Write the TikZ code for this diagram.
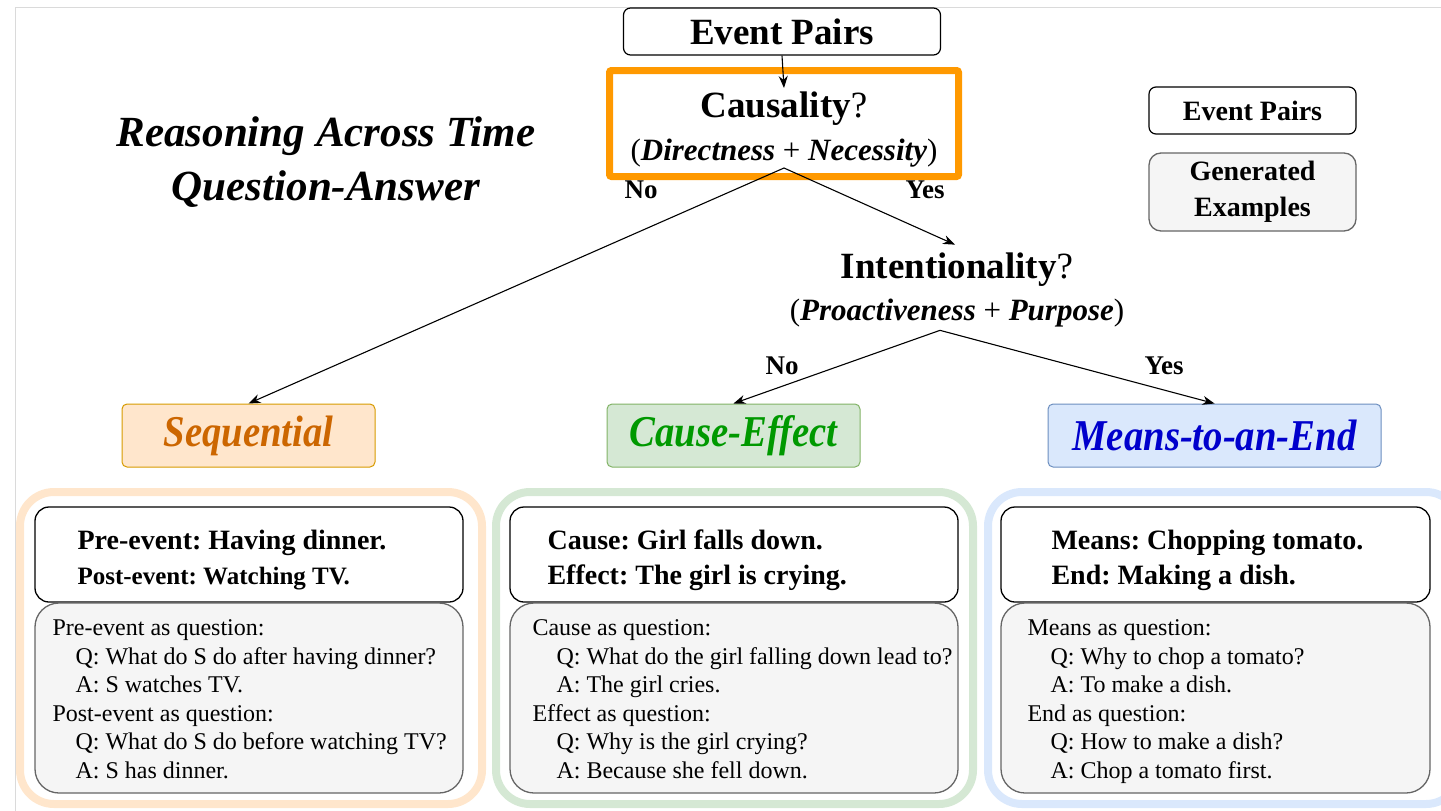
\documentclass[tikz,border=0pt]{standalone}
\usepackage{fontspec}
\setmainfont{Liberation Serif}
\newfontfamily\condfont[FakeStretch=0.88]{Liberation Serif}
\usetikzlibrary{arrows.meta, positioning}

\definecolor{seqfill}{HTML}{FFE6CC}
\definecolor{seqdraw}{HTML}{D79B00}
\definecolor{seqtext}{HTML}{CC6600}
\definecolor{cefill}{HTML}{D5E8D4}
\definecolor{cedraw}{HTML}{82B366}
\definecolor{cetext}{HTML}{009900}
\definecolor{mefill}{HTML}{DAE8FC}
\definecolor{medraw}{HTML}{6C8EBF}
\definecolor{metext}{HTML}{0000CC}
\definecolor{genfill}{HTML}{F5F5F5}
\definecolor{gendraw}{HTML}{666666}
\definecolor{causeorange}{HTML}{FF9900}
\definecolor{framegray}{HTML}{DADADA}

\newcommand{\pxfont}[2]{\fontsize{#1}{#2}\selectfont}
\frenchspacing

\begin{document}
\frenchspacing
\begin{tikzpicture}[x=1pt, y=-1pt,
  arr/.style={-{Stealth[length=12pt,width=9pt]}, line width=1.1pt},
  pairbox/.style={draw, rounded corners=14pt, fill=white, line width=1.3pt},
  genbox/.style={draw=gendraw, fill=genfill, rounded corners=24pt, line width=1.3pt},
  pairtext/.style={anchor=west, align=left, inner sep=0pt, yshift=-6pt, font=\pxfont{28}{35}\bfseries},
  gentext/.style={anchor=north west, align=left, inner sep=0pt, font=\pxfont{24}{28.6}},
  catbox/.style={rounded corners=5pt, minimum height=63pt, line width=1pt, font=\condfont\pxfont{44}{48}\bfseries\itshape},
  groupbox/.style={rounded corners=34pt, line width=8pt},
  lbl/.style={font=\pxfont{27}{32}\bfseries},
]
  \useasboundingbox (0,0) rectangle (1441,811);
  \draw[framegray, line width=1pt] (15,811) -- (15,7) -- (1441,7);

  % Title
  \node[align=center, font=\pxfont{43}{54}\bfseries\itshape] (title) at (326,162)
    {Reasoning Across Time\\Question-Answer};

  % Legend
  \node[draw, rounded corners=7pt, line width=1.2pt, minimum width=207pt, minimum height=47pt,
    font=\pxfont{28}{36}\bfseries] (legpairs) at (1252.5,110.5) {Event Pairs};
  \node[genbox, rounded corners=12pt, minimum width=207pt, minimum height=78pt, align=center,
    font=\pxfont{28}{36}\bfseries] (leggen) at (1252.5,192) {Generated\\Examples};

  % Decision tree
  \node[draw, rounded corners=7pt, line width=1.2pt, minimum width=317pt, minimum height=47pt,
    font=\pxfont{37}{40}\bfseries] (pairs) at (782,31.5) {Event Pairs};
  \node[draw=causeorange, line width=7pt, rounded corners=2pt, minimum width=349pt,
    minimum height=106pt] (causalbox) at (784,123.5) {};
  \node[align=center, inner sep=0pt, font=\pxfont{37}{43}] (causal) at (784,130)
    {\textbf{Causality}?\\
     \pxfont{31}{43}(\textbf{\textit{Directness}} + \textbf{\textit{Necessity}})};
  \node[align=center, inner sep=0pt, font=\pxfont{37}{42}] (intent) at (957,290)
    {\textbf{Intentionality}?\\
     \pxfont{31}{42}(\textbf{\textit{Proactiveness}} + \textbf{\textit{Purpose}})};

  \node[catbox, draw=seqdraw, fill=seqfill, text=seqtext, minimum width=253pt] (seq) at (248.5,435.5) {Sequential};
  \node[catbox, draw=cedraw, fill=cefill, text=cetext, minimum width=253pt] (ce) at (733.5,435.5) {Cause-Effect};
  \node[catbox, draw=medraw, fill=mefill, text=metext, minimum width=333pt] (me) at (1214.5,435.5) {Means-to-an-End};

  \coordinate (top) at ([yshift=12pt]causalbox.south);
  \coordinate (mid) at ([xshift=-17pt,yshift=-3pt]intent.south);
  \draw[arr] (pairs.south) -- ([yshift=-21pt]causalbox.north);
  \draw[arr] (top) -- (seq.north);
  \draw[arr] (top) -- ([xshift=-2pt,yshift=8pt]intent.north);
  \draw[arr] (mid) -- (ce.north);
  \draw[arr] (mid) -- (me.north);

  \node[lbl] (no1) at (641,190) {No};
  \node[lbl] (yes1) at (925,190) {Yes};
  \node[lbl] (no2) at (782,366) {No};
  \node[lbl] (yes2) at (1164,366) {Yes};

  % Example groups
  \draw[groupbox, seqfill] (20,492) rectangle (482,804);
  \draw[groupbox, cefill] (496,492) rectangle (973,804);
  \draw[groupbox, mefill] (988,492) rectangle (1460,804);

  \node[pairbox, minimum width=428pt, minimum height=95pt] (seqpair) at (249,554.5) {};
  \node[genbox, minimum width=428pt, minimum height=190pt] (seqgen) at (249,698) {};
  \node[pairbox, minimum width=448pt, minimum height=95pt] (cepair) at (734,554.5) {};
  \node[genbox, minimum width=448pt, minimum height=190pt] (cegen) at (734,698) {};
  \node[pairbox, minimum width=429pt, minimum height=95pt] (mepair) at (1215.5,554.5) {};
  \node[genbox, minimum width=429pt, minimum height=190pt] (megen) at (1215.5,698) {};

  \node[pairtext] at ([xshift=43pt]seqpair.west)
    {Pre-event: Having dinner.\\\pxfont{25}{35}Post-event: Watching TV.};
  \node[pairtext] at ([xshift=38pt]cepair.west)
    {Cause: Girl falls down.\\Effect: The girl is crying.};
  \node[pairtext] at ([xshift=51pt]mepair.west)
    {Means: Chopping tomato.\\End: Making a dish.};

  \node[gentext] at ([xshift=18pt,yshift=-17pt]seqgen.north west)
    {Pre-event as question:\\
     \hspace*{23pt}Q: What do S do after having dinner?\\
     \hspace*{23pt}A: S watches TV.\\
     Post-event as question:\\
     \hspace*{23pt}Q: What do S do before watching TV?\\
     \hspace*{23pt}A: S has dinner.};
  \node[gentext] at ([xshift=23pt,yshift=-17pt]cegen.north west)
    {Cause as question:\\
     \hspace*{24pt}Q: What do the girl falling down lead to?\\
     \hspace*{24pt}A: The girl cries.\\
     Effect as question:\\
     \hspace*{24pt}Q: Why is the girl crying?\\
     \hspace*{24pt}A: Because she fell down.};
  \node[gentext] at ([xshift=27pt,yshift=-17pt]megen.north west)
    {Means as question:\\
     \hspace*{23pt}Q: Why to chop a tomato?\\
     \hspace*{23pt}A: To make a dish.\\
     End as question:\\
     \hspace*{23pt}Q: How to make a dish?\\
     \hspace*{23pt}A: Chop a tomato first.};
\end{tikzpicture}
\end{document}
